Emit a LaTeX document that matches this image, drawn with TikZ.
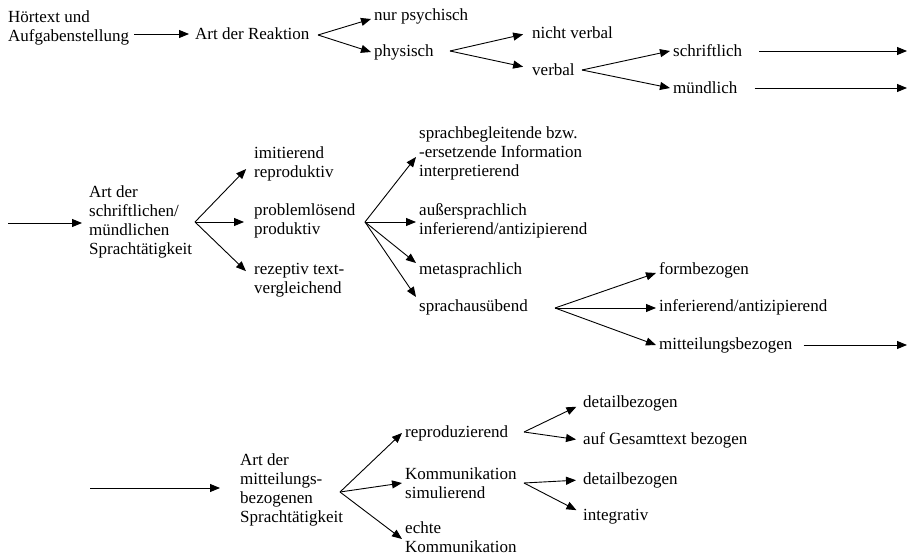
\documentclass[tikz,border=0pt]{standalone}
\usepackage{fontspec}
\setmainfont{Liberation Serif}
\usetikzlibrary{arrows.meta}

\begin{document}
\begin{tikzpicture}[x=1pt,y=-1pt,
    lbl/.style={anchor=west,align=left,inner xsep=3pt,inner ysep=1pt,
                font=\fontsize{17}{19}\selectfont},
    arr/.style={-{Triangle[length=10pt,width=8pt]},line width=0.9pt}]
  \useasboundingbox (0,0) rectangle (908,556);

  % Art der Reaktion
  \node[lbl] (hoer) at (5,28) {Hörtext und\\Aufgabenstellung};
  \node[lbl] (reak) at (192,34) {Art der Reaktion};
  \node[lbl] (psych) at (371,16) {nur psychisch};
  \node[lbl] (phys) at (371,52) {physisch};
  \node[lbl] (nverb) at (529,33) {nicht verbal};
  \node[lbl] (verb) at (529,70) {verbal};
  \node[lbl] (schr) at (670,51) {schriftlich};
  \node[lbl] (muend) at (670,88) {mündlich};
  \coordinate (fA) at (318,35);
  \coordinate (fB) at (450,51);
  \coordinate (fC) at (582,70);
  \coordinate (outA) at (907,51);
  \coordinate (outB) at (907,88);
  \draw[arr,shorten <=2pt,shorten >=3pt] (hoer.east |- reak.west) -- (reak.west);
  \draw[arr] (fA) -- ([yshift=-3pt]psych.west);
  \draw[arr] (fA) -- (phys.west);
  \draw[arr,shorten >=6pt] (fB) -- (nverb.west);
  \draw[arr,shorten >=6pt] (fB) -- ([yshift=2pt]verb.west);
  \draw[arr] (fC) -- (schr.west);
  \draw[arr] (fC) -- (muend.west);
  \draw[arr,shorten <=14pt] (schr.east) -- (outA);
  \draw[arr,shorten <=14pt] (muend.east) -- (outB);

  % schriftliche/muendliche Sprachtaetigkeit
  \coordinate (inB) at (8,223);
  \node[lbl] (artS) at (86,222) {Art der\\schriftlichen/\\mündlichen\\Sprachtätigkeit};
  \node[lbl] (imit) at (251,164) {imitierend\\reproduktiv};
  \node[lbl] (probl) at (251,221) {problemlösend\\produktiv};
  \node[lbl] (rezep) at (251,280) {rezeptiv text-\\vergleichend};
  \node[lbl] (spbeg) at (416,153) {sprachbegleitende bzw.\\-ersetzende Information\\interpretierend};
  \node[lbl] (auss) at (416,221) {außersprachlich\\inferierend/antizipierend};
  \node[lbl] (meta) at (416,270) {metasprachlich};
  \node[lbl] (spaus) at (416,307) {sprachausübend};
  \node[lbl] (form) at (656,270) {formbezogen};
  \node[lbl] (infer) at (656,307) {inferierend/antizipierend};
  \node[lbl] (mitt) at (656,345) {mitteilungsbezogen};
  \coordinate (fD) at (195,222);
  \coordinate (fE) at (365,222);
  \coordinate (fF) at (555,308);
  \coordinate (outC) at (907,345);
  \draw[arr,shorten >=4pt] (inB) -- (inB -| artS.west);
  \draw[arr,shorten >=7pt] (fD) -- (imit.west);
  \draw[arr,shorten >=7pt] (fD) -- (fD -| probl.west);
  \draw[arr,shorten >=7pt] (fD) -- ([yshift=4pt]rezep.west);
  \draw[arr] (fE) -- ([yshift=-4pt]spbeg.west);
  \draw[arr] (fE) -- (fE -| auss.west);
  \draw[arr] (fE) -- ([yshift=7pt]meta.west);
  \draw[arr] (fE) -- ([yshift=10pt]spaus.west);
  \draw[arr] (fF) -- ([yshift=-3pt]form.west);
  \draw[arr] (fF) -- (fF -| infer.west);
  \draw[arr] (fF) -- (mitt.west);
  \draw[arr,shorten <=8pt] (mitt.east) -- (outC);

  % mitteilungsbezogene Sprachtaetigkeit
  \coordinate (inC) at (90,488);
  \node[lbl] (artM) at (237,490) {Art der\\mitteilungs-\\bezogenen\\Sprachtätigkeit};
  \node[lbl] (repro) at (402,433) {reproduzierend};
  \node[lbl] (komsim) at (402,483) {Kommunikation\\simulierend};
  \node[lbl] (echt) at (402,537) {echte\\Kommunikation};
  \node[lbl] (detA) at (580,403) {detailbezogen};
  \node[lbl] (gesamt) at (580,440) {auf Gesamttext bezogen};
  \node[lbl] (detB) at (580,480) {detailbezogen};
  \node[lbl] (integ) at (580,517) {integrativ};
  \coordinate (fG) at (340,492);
  \coordinate (fH) at (524,432);
  \coordinate (fI) at (524,483);
  \draw[arr,shorten >=17pt] (inC) -- (inC -| artM.west);
  \draw[arr] (fG) -- (repro.west);
  \draw[arr] (fG) -- (komsim.west);
  \draw[arr] (fG) -- ([yshift=-2pt]echt.west);
  \draw[arr,shorten >=4pt] (fH) -- ([yshift=-2pt]detA.west);
  \draw[arr,shorten >=4pt] (fH) -- (gesamt.west);
  \draw[arr,shorten >=4pt] (fI) -- (detB.west);
  \draw[arr,shorten >=4pt] (fI) -- ([yshift=5pt]integ.west);
\end{tikzpicture}
\end{document}
